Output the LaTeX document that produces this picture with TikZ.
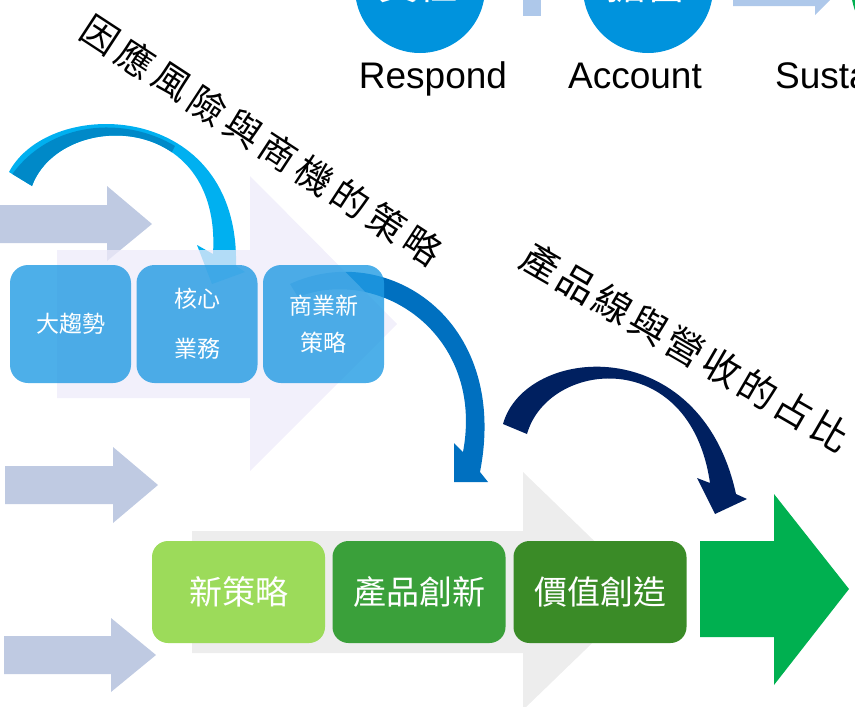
\documentclass[tikz,border=0pt]{standalone}
\usepackage{fontspec}
\setmainfont{Liberation Sans}
\newfontfamily\cjk{Noto Sans CJK TC}
\definecolor{circblue}{HTML}{0093DD}
\definecolor{barblue}{HTML}{AEC8EA}
\definecolor{sidegray}{HTML}{BFCAE2}
\definecolor{cyanarrow}{HTML}{00B0F0}
\definecolor{cyandark}{HTML}{0089C8}
\definecolor{midblue}{HTML}{0070C0}
\definecolor{navy}{HTML}{002060}
\definecolor{lavender}{HTML}{EEEBFA}
\definecolor{boxblue}{HTML}{219BE3}
\definecolor{paleg}{HTML}{EDEDED}
\definecolor{greenA}{HTML}{9CDB5A}
\definecolor{greenB}{HTML}{3AA03A}
\definecolor{greenC}{HTML}{3A8B27}
\definecolor{greenarrow}{HTML}{00B050}
\tikzset{
  topbox/.style={rectangle, rounded corners=18pt, fill=boxblue, fill opacity=0.8, text opacity=1,
    text=white, minimum width=121pt, minimum height=118pt, inner sep=0pt, align=center,
    font=\cjk\fontsize{23}{28}\selectfont},
  lowbox/.style={rectangle, rounded corners=16pt, text=white, minimum width=173pt,
    minimum height=102pt, inner sep=0pt, font=\cjk\fontsize{33}{40}\selectfont},
  circtext/.style={text=white, anchor=base, inner sep=0pt, font=\cjk\fontsize{40}{48}\selectfont},
  engl/.style={anchor=base, inner sep=0pt, font=\fontsize{37}{44}\selectfont},
  diag/.style={inner sep=0pt, font=\cjk\fontsize{37}{44}\selectfont}
}
\begin{document}
\begin{tikzpicture}[x=1pt,y=-1pt]
\useasboundingbox (0,0) rectangle (855,707);
\clip (0,0) rectangle (855,707);

\fill[barblue] (523,-20) rectangle (541,16);
\fill[barblue] (733,-20) -- (733,6) -- (815,6) -- (815,15) -- (852,-22) -- cycle;
\fill[circblue] (420,-12) circle (65);
\fill[circblue] (648,-12) circle (65);
\fill[greenarrow] (916,-12) circle (65);
\node[circtext] (duty) at (418,-1) {責任};
\node[circtext] (account) at (646,-1) {擔當};
\node[engl] (respondlbl) at (433,88) {Respond};
\node[engl] (accountlbl) at (635,88) {Account};
\node[engl, anchor=base west] (sustainlbl) at (775,88) {Susta};

\fill[sidegray] (0,205) -- (107,205) -- (107,186) -- (152,224) -- (107,261) -- (107,243) -- (0,243) -- cycle;
\fill[sidegray] (5,466) -- (113,466) -- (113,447) -- (158,485) -- (113,523) -- (113,504) -- (5,504) -- cycle;
\fill[sidegray] (4,636) -- (111,636) -- (111,618) -- (156,655) -- (111,692) -- (111,674) -- (4,674) -- cycle;

\fill[cyanarrow] (9,172) .. controls (50,95) and (240,100) .. (236,266) -- (245,272) -- (212,284)
  -- (197,245) -- (213,254) .. controls (222,110) and (60,110) .. (32,186) -- cycle;
\begin{scope}
  \clip (9,172) .. controls (50,95) and (240,100) .. (236,266) -- (197,245)
    -- (213,254) .. controls (222,110) and (60,110) .. (32,186) -- cycle;
  \fill[cyandark] (11,176) .. controls (50,120) and (125,116) .. (175,146) -- (160,175) -- (30,205) -- cycle;
\end{scope}
\fill[midblue] (290,284) .. controls (385,240) and (510,318) .. (480,472) -- (488,482) -- (454,482)
  -- (454,443) -- (463,452) .. controls (485,335) and (380,265) .. (298,297) -- cycle;

\fill[lavender, fill opacity=0.75] (57,250) -- (250,250) -- (250,176) -- (397,324) -- (250,471) -- (250,398) -- (57,398) -- cycle;

\node[topbox] (trend) at (70.5,324) {大趨勢};
\node[topbox] (core) at (197,324) {核心\\[22pt]業務};
\node[topbox] (newbiz) at (323.5,324) {商業新\\[9pt]策略};

\fill[paleg] (192,531) -- (523,531) -- (523,472) -- (646,591) -- (523,710) -- (523,653) -- (192,653) -- cycle;
\node[lowbox, fill=greenA] (strategy) at (238.5,592) {新策略};
\node[lowbox, fill=greenB] (innovate) at (419,592) {產品創新};
\node[lowbox, fill=greenC] (value) at (600,592) {價值創造};
\fill[greenarrow] (700,541) -- (774,541) -- (774,494) -- (849,589) -- (774,685) -- (774,637) -- (700,637) -- cycle;

\fill[navy] (503,424) .. controls (525,345) and (700,330) .. (736,494) -- (747,499) -- (715,514)
  -- (697,478) -- (710,483) .. controls (690,345) and (548,360) .. (527,434) -- cycle;

\begin{scope}[shift={(100,35)}, rotate=-33.2]
  \foreach \ch [count=\i from 0] in {因,應,風,險,與,商,機,的,策,略}
    \node[diag, rotate=-33.2] (risk\i) at (\i*42.8,0) {\ch};
\end{scope}
\begin{scope}[shift={(541,263)}, rotate=-30.1]
  \foreach \ch [count=\i from 0] in {產,品,線,與,營,收,的,占,比}
    \node[diag, rotate=-30.1, font=\cjk\fontsize{38}{44}\selectfont] (share\i) at (\i*41.8,0) {\ch};
\end{scope}
\end{tikzpicture}
\end{document}
